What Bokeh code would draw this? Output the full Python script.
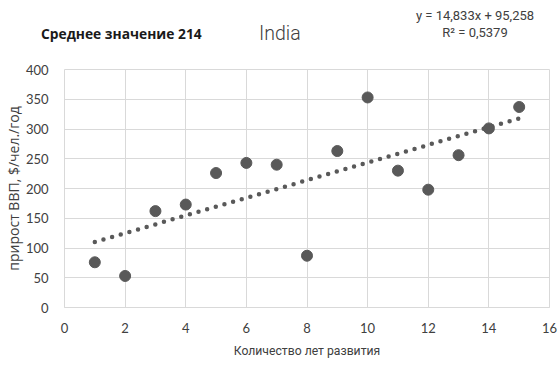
from bokeh.plotting import figure
from bokeh.models import FixedTicker, Range1d, Div
from bokeh.layouts import column
from bokeh.embed import file_html
from bokeh.resources import INLINE
import numpy as np

years = [1, 2, 3, 4, 5, 6, 7, 8, 9, 10, 11, 12, 13, 14, 15]
gdp_growth = [76, 53, 162, 173, 226, 243, 240, 87, 263, 353, 230, 198, 256, 301, 337]
slope = 14.833
intercept = 95.258
r2 = 0.5379
x_ticks = [0, 2, 4, 6, 8, 10, 12, 14, 16]
y_ticks = [0, 50, 100, 150, 200, 250, 300, 350, 400]
mean_text = "Среднее значение 214"
country = "India"

TICKFONT = "Lato"
TXT = "#404040"
HEAD_H = 61

p = figure(output_backend="svg", toolbar_location=None,
           x_range=Range1d(0, 16), y_range=Range1d(0, 400),
           min_border_left=64, min_border_right=8, min_border_top=69 - HEAD_H,
           min_border_bottom=62, frame_width=485, frame_height=238)
p.outline_line_color = "#d9d9d9"
p.background_fill_color = "white"

p.xaxis.ticker = FixedTicker(ticks=x_ticks)
p.yaxis.ticker = FixedTicker(ticks=y_ticks)
for ax in (p.xaxis[0], p.yaxis[0]):
    ax.major_tick_line_color = None
    ax.minor_tick_line_color = None
    ax.major_label_text_font = TICKFONT
    ax.major_label_text_font_size = "13px"
    ax.major_label_text_color = TXT
    ax.axis_label_text_font_style = "normal"
    ax.axis_label_text_color = TXT
p.xaxis.axis_line_color = "#d9d9d9"
p.yaxis.axis_line_color = None
p.xaxis.major_label_standoff = 9
p.yaxis.major_label_standoff = 10
p.xaxis.axis_label = "Количество лет развития"
p.xaxis.axis_label_text_font = "Roboto"
p.xaxis.axis_label_text_font_size = "12.2px"
p.xaxis.axis_label_standoff = 8
p.yaxis.axis_label = "прирост ВВП, $/чел./год"
p.yaxis.axis_label_text_font = "Open Sans"
p.yaxis.axis_label_text_font_size = "14px"
p.yaxis.axis_label_standoff = 0
p.grid.grid_line_color = "#d9d9d9"
p.grid.grid_line_width = 1

xt = np.array([years[0], years[-1]], dtype=float)
p.line(xt, slope * xt + intercept, line_color="#595959", line_width=4.5,
       line_dash="0 9", line_cap="round")
p.scatter(years, gdp_growth, size=11, color="#595959")

eq = f"y = {slope:.3f}x + {intercept:.3f}".replace(".", ",")
r2t = f"R² = {r2:.4f}".replace(".", ",")

def span(left, top, text, style, center=False):
    tr = "transform:translateX(-50%);" if center else ""
    return (f'<span style="position:absolute;left:{left}px;top:{top}px;white-space:nowrap;'
            f'{tr}{style}">{text}</span>')

html = (f'<div style="position:relative;width:557px;height:{HEAD_H}px;margin:0;padding:0;">'
        + span(41, 24, mean_text,
               "font-family:'Open Sans';font-size:13.8px;line-height:20px;font-weight:bold;color:#1a1a1a;")
        + span(259, 21, country,
               "font-family:Roboto;font-size:19.5px;line-height:26px;font-weight:300;color:#404040;")
        + span(475, 6, eq,
               "font-family:Roboto;font-size:13px;line-height:20px;color:#404040;", center=True)
        + span(475, 23, r2t,
               "font-family:Roboto;font-size:13px;line-height:20px;color:#404040;", center=True)
        + '</div>')
header = Div(text=html, width=557, height=HEAD_H, margin=0)

layout = column(header, p, spacing=0)
open("out.html", "w").write(file_html(layout, INLINE))
